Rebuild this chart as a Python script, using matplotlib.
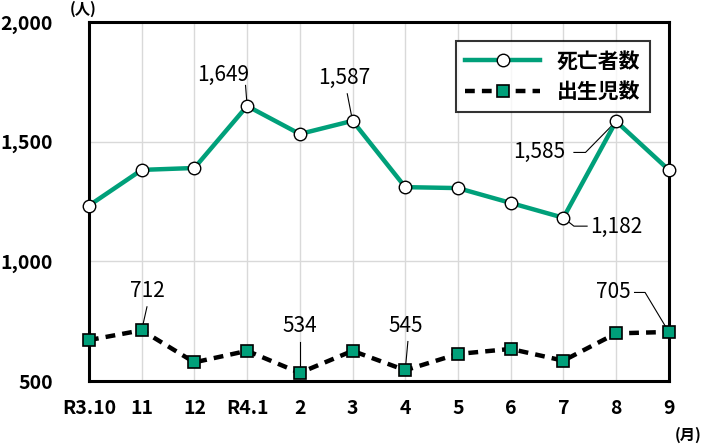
import matplotlib.pyplot as plt
import numpy as np

plt.rcParams['font.family'] = ['Noto Sans CJK JP', 'DejaVu Sans']

months = ['R3.10', '11', '12', 'R4.1', '2', '3', '4', '5', '6', '7', '8', '9']
deaths = [1233, 1382, 1390, 1649, 1532, 1587, 1310, 1306, 1244, 1182, 1585, 1382]
births = [671, 712, 578, 626, 534, 626, 545, 613, 634, 585, 699, 705]

green = '#00A07A'
x = np.arange(len(months))

fig = plt.figure(figsize=(7.04, 4.45), dpi=100)
ax = fig.add_axes([0.1264, 0.1438, 0.8236, 0.8068])

ax.plot(x, deaths, color=green, lw=3.2, marker='o', ms=9, mfc='white',
        mec='black', mew=1.0, label='死亡者数', zorder=3, clip_on=False)
ax.plot(x, births, color='black', lw=3.2, ls=(0, (2.2, 1.6)), marker='s', ms=9,
        mfc=green, mec='black', mew=1.2, label='出生児数', zorder=3, clip_on=False)

ax.set_xlim(0, 11)
ax.set_ylim(500, 2000)
ax.set_yticks([500, 1000, 1500, 2000])
ax.set_yticklabels(['500', '1,000', '1,500', '2,000'], fontweight='bold', fontsize=14)
ax.set_xticks(x)
ax.set_xticklabels(months, fontweight='bold', fontsize=14)
ax.tick_params(axis='both', length=0)
ax.tick_params(axis='y', pad=26)
ax.tick_params(axis='x', pad=13)
ax.grid(True, color='#d9d9d9', lw=1)
ax.set_axisbelow(True)
for s in ax.spines.values():
    s.set_linewidth(2.2)
    s.set_color('black')

# callouts
def callout(i, val, tx, ty, pts):
    ax.text(tx, ty, f'{val:,}', fontsize=15, ha='center', va='center')
    xs = [p[0] for p in pts] + [i]
    ys = [p[1] for p in pts] + [val]
    ax.plot(xs, ys, color='black', lw=0.8, zorder=2, clip_on=False)

callout(3, deaths[3], 2.55, 1780, [(2.97, 1735)])
callout(5, deaths[5], 4.85, 1765, [(4.9, 1700)])
callout(10, deaths[10], 8.55, 1455, [(9.2, 1455), (9.42, 1455)])
callout(9, deaths[9], 10.0, 1143, [(9.45, 1147), (9.2, 1147)])
callout(1, births[1], 1.1, 875, [(1.1, 810)])
callout(4, births[4], 4.0, 730, [(4.0, 665)])
callout(6, births[6], 6.0, 730, [(6.05, 665)])
callout(11, births[11], 9.95, 870, [(10.35, 870), (10.55, 870)])

leg = ax.legend(loc='upper right', bbox_to_anchor=(0.985, 0.975), frameon=True,
                fancybox=False, edgecolor='black', prop={'weight': 'bold', 'size': 15},
                handlelength=3.6, borderpad=0.45, labelspacing=0.45)
leg.get_frame().set_linewidth(1.5)

fig.text(0.118, 0.998, '(人)', fontsize=11, fontweight='bold', ha='center', va='top')
fig.text(0.977, 0.022, '(月)', fontsize=11, fontweight='bold', ha='center', va='center')

fig.savefig('out.png', dpi=100)
